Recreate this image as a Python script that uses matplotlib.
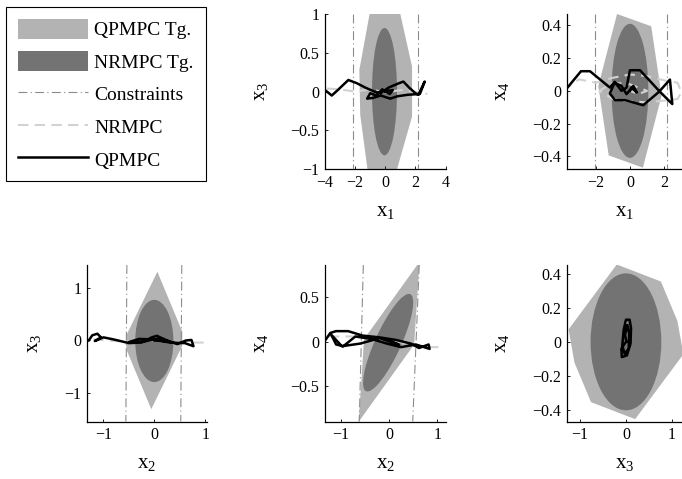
import numpy as np
import matplotlib.pyplot as plt
from matplotlib.patches import Polygon, Ellipse, Patch
from matplotlib.lines import Line2D

plt.rcParams['font.family'] = ['Liberation Serif', 'DejaVu Serif']
plt.rcParams['mathtext.fontset'] = 'custom'
plt.rcParams['mathtext.rm'] = 'Liberation Serif'
plt.rcParams['mathtext.it'] = 'Liberation Serif:italic'

LIGHT = '#b3b3b3'
DARK = '#737373'
CONS = '#8c8c8c'
NRCOL = '#d2d2d2'

# ---- data, one block per state pair ----
# QPMPC terminal set projections (polygon vertices)
qp_set_13 = [(-1.04, 1.0), (1.0, 1.0), (1.78, 0.32), (1.78, -0.32), (0.78, -1.0),
             (-1.18, -1.0), (-1.66, -0.3), (-1.72, 0.28)]
qp_set_14 = [(-0.76, 0.47), (1.25, 0.395), (1.86, -0.03), (0.76, -0.47),
             (-1.25, -0.395), (-1.86, 0.03)]
qp_set_23 = [(0.06, 1.32), (0.55, 0.17), (0.55, -0.1), (-0.06, -1.32),
             (-0.55, -0.17), (-0.55, 0.1)]
qp_set_24 = [(0.63, 0.9), (0.52, -0.03), (-0.63, -0.9), (-0.52, 0.03)]
qp_set_34 = [(-0.2, 0.455), (0.76, 0.355), (1.12, 0.123), (1.25, -0.073),
             (0.2, -0.455), (-0.76, -0.355), (-1.12, -0.123), (-1.25, 0.073)]

# NRMPC terminal ellipse: centre x, centre y, width, height, angle
nr_set_13 = (-0.05, 0.0, 1.66, 1.64, 0.0)
nr_set_14 = (0.0, 0.0, 2.16, 0.82, 0.0)
nr_set_23 = (0.0, -0.01, 0.75, 1.58, 0.0)
nr_set_24 = (-0.02, -0.01, 1.446, 0.447, 46.9)
nr_set_34 = (0.0, 0.0, 1.54, 0.806, 0.0)

# constraint lines: (x at top, x at bottom)
cons_13 = [(-2.15, -2.15), (2.2, 2.2)]
cons_14 = [(-2.06, -2.06), (2.2, 2.2)]
cons_23 = [(-0.54, -0.56), (0.54, 0.52)]
cons_24 = [(-0.535, -0.62), (0.625, 0.49)]
cons_34 = []

# QPMPC closed-loop trajectories
qp_13_x = [-3.93, -3.55, -3.1, -2.45, -1.9, -1.3, -0.7, -0.3, 0.2, 0.8, 1.2, 1.6, 2.0, 2.2, 2.62,
           2.3, 1.5, 0.8, 0.33, -0.3, -0.8, -1.2, -1.0, -0.6, -0.2, 0.3, 0.5, 0.1, 0.0]
qp_13_y = [0.01, -0.05, 0.03, 0.15, 0.11, 0.05, 0.0, -0.02, 0.05, 0.1, 0.13, 0.05, -0.02, -0.04, 0.13,
           -0.03, -0.04, -0.06, -0.09, -0.05, -0.08, -0.09, -0.02, -0.05, 0.03, -0.03, 0.02, 0.01, 0.0]
qp_14_x = [-3.95, -3.72, -2.88, -2.35, -1.18, -0.9, -0.5, -0.2, 0.0, 0.59, 1.71, 2.49, 2.35, 1.71,
           0.78, -0.29, -0.88, -1.18, -0.9, -0.5, -0.2, 0.2, 0.4, 0.1, 0.0]
qp_14_y = [-0.01, 0.014, 0.12, 0.12, 0.02, 0.055, 0.0, 0.02, 0.126, 0.126, 0.0, -0.081, 0.069, -0.006,
           -0.088, -0.057, -0.057, -0.016, 0.05, 0.03, -0.02, 0.03, -0.01, 0.02, 0.0]
qp_23_x = [-1.29, -1.22, -1.12, -1.05, -1.17, -1.0, -0.8, -0.5, -0.25, -0.05, 0.05, 0.25, 0.45,
           0.62, 0.73, 0.77, 0.6, 0.3, 0.0, -0.3, -0.5, -0.2, 0.1, 0.3, 0.0]
qp_23_y = [0.0, 0.1, 0.13, 0.06, -0.01, 0.06, 0.02, -0.05, -0.04, 0.06, 0.09, 0.0, -0.07,
           0.0, 0.01, -0.11, -0.05, -0.04, 0.02, 0.03, -0.03, -0.02, 0.04, -0.02, 0.0]
qp_24_x = [-1.32, -1.22, -1.1, -0.85, -0.55, -0.2, 0.15, 0.45, 0.62, 0.82, 0.84, 0.55, 0.25,
           -0.05, -0.35, -0.7, -0.95, -1.1, -1.2, -0.98, -0.6, -0.2, 0.2, 0.05]
qp_24_y = [0.02, 0.1, 0.12, 0.12, 0.07, 0.05, 0.02, -0.02, -0.07, -0.03, -0.08, -0.03, -0.06,
           -0.02, 0.03, 0.06, -0.05, -0.03, 0.08, -0.05, -0.02, 0.04, -0.03, 0.0]
qp_34_x = [0.0, -0.1, -0.09, 0.02, 0.1, 0.11, 0.08, 0.0, -0.05, -0.08, -0.03, 0.06, 0.07,
           0.03, -0.02, 0.01]
qp_34_y = [0.0, -0.04, -0.09, -0.08, -0.01, 0.08, 0.13, 0.13, 0.07, -0.02, -0.07, -0.04, 0.05,
           0.1, 0.04, 0.0]

# NRMPC closed-loop trajectories
nr_13_x = [-3.9, -3.0, -2.0, -1.0, 0.0, 1.0, 2.0, 2.8]
nr_13_y = [0.04, 0.03, 0.0, 0.03, -0.01, 0.02, 0.0, -0.03]
nr_14_x = [-3.95, -3.0, -2.0, -1.0, 0.0, 1.0, 2.2, 2.8, 3.02, 2.8, 2.0, 1.0, 0.0, -1.0, -1.8,
           -1.0, 0.0, 1.0, 0.5, 0.0]
nr_14_y = [0.0, 0.07, 0.05, 0.08, 0.1, 0.09, 0.06, 0.05, -0.01, -0.05, -0.06, -0.07, -0.065,
           -0.05, 0.0, 0.05, 0.04, 0.0, -0.02, 0.0]
nr_23_x = [-1.2, -0.6, 0.0, 0.5, 0.8, 1.0]
nr_23_y = [0.02, -0.02, 0.0, -0.03, -0.04, -0.04]
nr_24_x = [-1.25, -0.7, -0.2, 0.4, 0.8, 1.03]
nr_24_y = [0.06, 0.06, 0.03, -0.02, -0.06, -0.06]
nr_34_x = [0.0, 0.01, 0.02]
nr_34_y = [0.06, 0.11, 0.08]

W, H = 682, 479
panels = [
    dict(rect=(325, 14, 445.5, 169.3), qp=qp_set_13, nr=nr_set_13, cons=cons_13,
         traj=(qp_13_x, qp_13_y), ntraj=(nr_13_x, nr_13_y),
         xlim=(-4, 4), ylim=(-1, 1), xt=[-4, -2, 0, 2, 4], yt=[-1, -0.5, 0, 0.5, 1],
         xl=r'$\mathrm{x}_1$', yl=r'$\mathrm{x}_3$'),
    dict(rect=(566.7, 14, 682, 169.3), qp=qp_set_14, nr=nr_set_14, cons=cons_14,
         traj=(qp_14_x, qp_14_y), ntraj=(nr_14_x, nr_14_y),
         xlim=(-3.72, 3.06), ylim=(-0.48, 0.47), xt=[-2, 0, 2], yt=[-0.4, -0.2, 0, 0.2, 0.4],
         xl=r'$\mathrm{x}_1$', yl=r'$\mathrm{x}_4$'),
    dict(rect=(86.7, 265, 206.7, 421.7), qp=qp_set_23, nr=nr_set_23, cons=cons_23,
         traj=(qp_23_x, qp_23_y), ntraj=(nr_23_x, nr_23_y),
         xlim=(-1.33, 1.03), ylim=(-1.56, 1.45), xt=[-1, 0, 1], yt=[-1, 0, 1],
         xl=r'$\mathrm{x}_2$', yl=r'$\mathrm{x}_3$'),
    dict(rect=(325, 265, 445.5, 421.7), qp=qp_set_24, nr=nr_set_24, cons=cons_24,
         traj=(qp_24_x, qp_24_y), ntraj=(nr_24_x, nr_24_y),
         xlim=(-1.33, 1.17), ylim=(-0.9, 0.865), xt=[-1, 0, 1], yt=[-0.5, 0, 0.5],
         xl=r'$\mathrm{x}_2$', yl=r'$\mathrm{x}_4$'),
    dict(rect=(566.7, 265, 682, 421.7), qp=qp_set_34, nr=nr_set_34, cons=cons_34,
         traj=(qp_34_x, qp_34_y), ntraj=(nr_34_x, nr_34_y),
         xlim=(-1.29, 1.22), ylim=(-0.47, 0.452), xt=[-1, 0, 1], yt=[-0.4, -0.2, 0, 0.2, 0.4],
         xl=r'$\mathrm{x}_3$', yl=r'$\mathrm{x}_4$'),
]

fig = plt.figure(figsize=(W / 100, H / 100), dpi=100)

for p in panels:
    x0, y0, x1, y1 = p['rect']
    ax = fig.add_axes([x0 / W, 1 - y1 / H, (x1 - x0) / W, (y1 - y0) / H])
    ax.add_patch(Polygon(p['qp'], closed=True, facecolor=LIGHT, edgecolor='none', zorder=1))
    cx, cy, ew, eh, ang = p['nr']
    ax.add_patch(Ellipse((cx, cy), ew, eh, angle=ang, facecolor=DARK, edgecolor='none', zorder=2))
    ylo, yhi = p['ylim']
    for xt_top, xt_bot in p['cons']:
        ax.plot([xt_top, xt_bot], [yhi, ylo], color=CONS, lw=0.8, ls='-.',
                dashes=(8, 3, 1, 3), zorder=3)
    ax.plot(p['ntraj'][0], p['ntraj'][1], color=NRCOL, lw=1.5, ls='--', dashes=(5, 3), zorder=4)
    ax.plot(p['traj'][0], p['traj'][1], color='black', lw=1.8, zorder=5)
    ax.set_xlim(p['xlim'])
    ax.set_ylim(p['ylim'])
    ax.set_xticks(p['xt'])
    ax.set_yticks(p['yt'])
    ax.set_yticklabels([('%g' % v).replace('-', '\u2212') for v in p['yt']])
    ax.set_xticklabels([('%g' % v).replace('-', '\u2212') for v in p['xt']])
    ax.spines['top'].set_visible(False)
    ax.spines['right'].set_visible(False)
    for s in ('left', 'bottom'):
        ax.spines[s].set_linewidth(0.9)
    ax.tick_params(direction='in', length=2.5, width=0.6, labelsize=11.5, pad=4)
    ax.set_xlabel(p['xl'], fontsize=15, labelpad=8)
    ax.set_ylabel(p['yl'], fontsize=15, labelpad=15)

handles = [
    Patch(facecolor=LIGHT, edgecolor='none'),
    Patch(facecolor=DARK, edgecolor='none'),
    Line2D([], [], color=CONS, lw=0.8, ls='-.', dashes=(8, 3, 1, 3)),
    Line2D([], [], color=NRCOL, lw=1.5, ls='--', dashes=(5, 3)),
    Line2D([], [], color='black', lw=1.8),
]
labels = ['QPMPC Tg.', 'NRMPC Tg.', 'Constraints', 'NRMPC', 'QPMPC']
leg = fig.legend(handles, labels, loc='upper left', bbox_to_anchor=(6 / W, 1 - 7 / H),
                 borderaxespad=0, fontsize=14, handlelength=3.6, handleheight=1.2,
                 handletextpad=0.35, labelspacing=0.62, borderpad=0.6, fancybox=False,
                 framealpha=1, edgecolor='black')
leg.get_frame().set_linewidth(0.8)

fig.savefig('out.png', dpi=100)
